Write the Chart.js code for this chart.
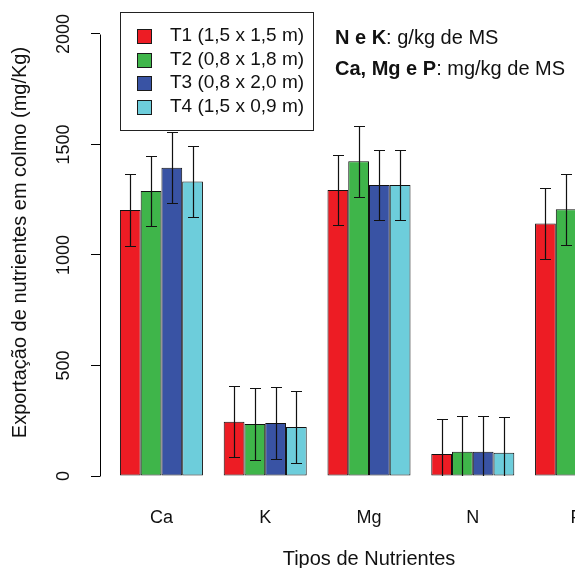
<!DOCTYPE html>
<html>
<head>
<meta charset="utf-8">
<script src="https://cdn.jsdelivr.net/npm/chart.js@4"></script>
<style>
    body { margin: 0; overflow: hidden; background: #fff; }
    #wrap { width: 575px; height: 568px; overflow: hidden; }
</style>
</head>
<body>
<div id="wrap"><canvas id="Chart" width="660" height="568"></canvas></div>
<script>
const categories = ['Ca', 'K', 'Mg', 'N', 'P'];
const seriesNames = ['T1 (1,5 x 1,5 m)', 'T2 (0,8 x 1,8 m)', 'T3 (0,8 x 2,0 m)', 'T4 (1,5 x 0,9 m)'];
const t1 = [1203, 246, 1294, 100, 1143];
const t2 = [1290, 235, 1424, 110, 1207];
const t3 = [1395, 240, 1317, 110, 1250];
const t4 = [1332, 222, 1317, 105, 1180];
const t1Err = [162, 159, 160, 160, 159];
const t2Err = [160, 162, 160, 160, 160];
const t3Err = [161, 162, 160, 160, 160];
const t4Err = [160, 161, 160, 160, 160];
const colors = ['#ED1C24', '#3FB54A', '#3953A4', '#6DCDDB'];
const yTicks = [0, 500, 1000, 1500, 2000];

const FONT = 'Liberation Sans, Arial, sans-serif';

// barplot layout: 4 bars + 1 gap per group, group centre at 3, 8, 13...
function groupPos(i) { return 5 * i + 3; }

function makeSet(k, vals, errs) {
    return {
        label: seriesNames[k],
        data: vals.map((v, i) => ({x: groupPos(i), y: v})),
        errors: errs,
        backgroundColor: colors[k],
        borderColor: '#111',
        borderWidth: 1,
        borderSkipped: false,
        categoryPercentage: 0.8,
        barPercentage: 1.0
    };
}

// error bars with small caps
const errorBars = {
    id: 'errorBars',
    afterDatasetsDraw(chart) {
        const ctx = chart.ctx;
        const y = chart.scales.y;
        const a = chart.chartArea;
        ctx.save();
        ctx.beginPath();
        ctx.rect(a.left, a.top, a.right - a.left, a.bottom - a.top);
        ctx.clip();
        ctx.strokeStyle = '#111';
        ctx.lineWidth = 1.2;
        chart.data.datasets.forEach((ds, i) => {
            chart.getDatasetMeta(i).data.forEach((bar, j) => {
                const v = ds.data[j].y, e = ds.errors[j];
                const x = Math.round(bar.x) + 0.5;
                const yt = Math.round(y.getPixelForValue(v + e)) + 0.5;
                const yb = Math.round(y.getPixelForValue(v - e)) + 0.5;
                ctx.beginPath();
                ctx.moveTo(x, yt); ctx.lineTo(x, yb);
                ctx.moveTo(x - 5.5, yt); ctx.lineTo(x + 5.5, yt);
                ctx.moveTo(x - 5.5, yb); ctx.lineTo(x + 5.5, yb);
                ctx.stroke();
            });
        });
        ctx.restore();
    }
};

// y axis line only between first and last tick (like R axis())
const axisLine = {
    id: 'axisLine',
    afterDraw(chart) {
        const ctx = chart.ctx;
        const y = chart.scales.y;
        const x = chart.chartArea.left + 0.5;
        ctx.save();
        ctx.strokeStyle = '#000';
        ctx.lineWidth = 1;
        ctx.beginPath();
        ctx.moveTo(x, Math.round(y.getPixelForValue(yTicks[0])) + 0.5);
        ctx.lineTo(x, Math.round(y.getPixelForValue(yTicks[yTicks.length - 1])) + 0.5);
        ctx.stroke();
        ctx.restore();
    }
};

// boxed legend + unit note
const legendBox = {
    id: 'legendBox',
    afterDraw(chart) {
        const ctx = chart.ctx;
        ctx.save();
        ctx.fillStyle = '#fff';
        ctx.fillRect(120.5, 12.5, 193, 118);
        ctx.strokeStyle = '#222';
        ctx.lineWidth = 1;
        ctx.strokeRect(120.5, 12.5, 193, 118);
        ctx.font = '19px ' + FONT;
        ctx.textBaseline = 'middle';
        chart.data.datasets.forEach((ds, i) => {
            const cy = 36 + i * 23.5;
            ctx.fillStyle = ds.backgroundColor;
            ctx.fillRect(137.5, Math.round(cy - 7) + 0.5, 14, 14);
            ctx.strokeStyle = '#1a1a1a';
            ctx.strokeRect(137.5, Math.round(cy - 7) + 0.5, 14, 14);
            ctx.fillStyle = '#111';
            ctx.fillText(ds.label, 170, cy);
        });

        ctx.textBaseline = 'alphabetic';
        const lines = [['N e K', ': g/kg de MS', 44], ['Ca, Mg e P', ': mg/kg de MS', 75]];
        lines.forEach(l => {
            ctx.font = 'bold 20px ' + FONT;
            ctx.fillStyle = '#111';
            ctx.fillText(l[0], 335, l[2]);
            const w = ctx.measureText(l[0]).width;
            ctx.font = '20px ' + FONT;
            ctx.fillText(l[1], 335 + w, l[2]);
        });
        ctx.restore();
    }
};

const canvas = document.getElementById('Chart');
const ctx = canvas.getContext('2d');
const chart = new Chart(ctx, {
    type: 'bar',
    data: {
        datasets: [
            makeSet(0, t1, t1Err),
            makeSet(1, t2, t2Err),
            makeSet(2, t3, t3Err),
            makeSet(3, t4, t4Err)
        ]
    },
    options: {
        responsive: false,
        animation: false,
        devicePixelRatio: 1,
        layout: { padding: { top: 9, right: 22, bottom: 0, left: 0 } },
        plugins: {
            legend: { display: false },
            tooltip: { enabled: false }
        },
        scales: {
            x: {
                type: 'linear',
                min: 0.04,
                max: 25.96,
                offset: false,
                afterBuildTicks: (s) => { s.ticks = categories.map((c, i) => ({value: groupPos(i)})); },
                afterFit: (s) => { s.height = 92; s.paddingLeft = 0; s.paddingRight = 0; },
                grid: { display: false, drawTicks: false, offset: false },
                border: { display: false },
                ticks: {
                    autoSkip: false,
                    maxRotation: 0,
                    padding: 31,
                    color: '#111',
                    font: { family: FONT, size: 18 },
                    callback: (v, i) => categories[i]
                },
                title: {
                    display: true,
                    text: 'Tipos de Nutrientes',
                    color: '#111',
                    font: { family: FONT, size: 20 },
                    padding: { top: 0, bottom: -3 }
                }
            },
            y: {
                min: 0,
                max: 2113,
                afterBuildTicks: (s) => { s.ticks = yTicks.map(v => ({value: v})); },
                afterFit: (s) => { s.width = 100; s.paddingTop = 0; s.paddingBottom = 0; },
                grid: {
                    display: true,
                    drawOnChartArea: false,
                    drawTicks: true,
                    tickLength: 9,
                    color: '#000',
                    lineWidth: 1
                },
                border: { display: false },
                ticks: {
                    minRotation: 90,
                    maxRotation: 90,
                    crossAlign: 'center',
                    padding: 7,
                    color: '#111',
                    font: { family: FONT, size: 18 },
                    callback: (v) => String(v)
                },
                title: {
                    display: true,
                    text: 'Exportação de nutrientes em colmo (mg/Kg)',
                    color: '#111',
                    font: { family: FONT, size: 20 },
                    padding: { top: 8, bottom: 0 }
                }
            }
        }
    },
    plugins: [errorBars, axisLine, legendBox]
});
</script>
</body>
</html>
